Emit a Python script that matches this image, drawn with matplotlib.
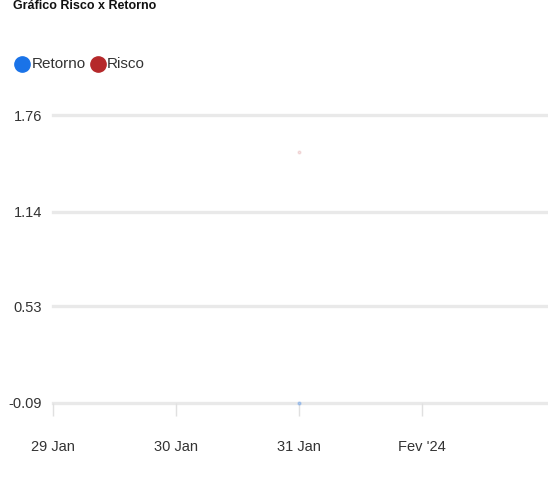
import matplotlib
matplotlib.use("Agg")
import matplotlib.pyplot as plt
import matplotlib.dates as mdates
from matplotlib.lines import Line2D
import datetime as dt

plt.rcParams['font.family'] = ['Liberation Sans', 'DejaVu Sans']

# Dados
titulo = "Gráfico Risco x Retorno"
series = ["Retorno", "Risco"]
cores = ["#1a73e8", "#b5282a"]
datas = [dt.date(2024, 1, 31)]
retorno = [-0.09]
risco = [1.52]
yticks = [-0.09, 0.53, 1.14, 1.76]
xticks = [dt.date(2024, 1, 29), dt.date(2024, 1, 30), dt.date(2024, 1, 31), dt.date(2024, 2, 1)]
xlabels = ["29 Jan", "30 Jan", "31 Jan", "Fev '24"]

W, H = 548, 497
fig = plt.figure(figsize=(W / 100, H / 100), dpi=100)
ax = fig.add_axes([53 / W, 1 - 403 / H, 1 - 53 / W, (403 - 115) / H])

x0 = mdates.date2num(xticks[0])
ax.set_xlim(x0, x0 + (W - 53) / 123)
ax.set_ylim(yticks[0], yticks[-1])

# pontos (quase invisíveis no original)
xd = mdates.date2num(datas)
ax.plot(xd, retorno, 'o', color=cores[0], ms=2, alpha=0.25, clip_on=False)
ax.plot(xd, risco, 'o', color=cores[1], ms=2, alpha=0.12, clip_on=False)

# grade
for v in yticks:
    ax.axhline(v, color="#e9e9e9", lw=2.4, zorder=0, clip_on=False)

for s in ax.spines.values():
    s.set_visible(False)

ax.set_yticks(yticks)
ax.set_yticklabels([f"{v:.2f}" for v in yticks])
ax.tick_params(axis='y', length=0, pad=8, labelsize=10.5, labelcolor="#333333")

ax.set_xticks(mdates.date2num(xticks))
ax.set_xticklabels(xlabels)
ax.tick_params(axis='x', length=9.5, width=1, color="#e0e0e0", pad=17,
               labelsize=10.5, labelcolor="#333333")

# título (no topo da imagem)
fig.text(13 / W, 1.0, titulo, fontsize=9, fontweight='bold', color="#111111",
         ha='left', va='top')

# legenda
leg_x = [22, 98]
txt_x = [32, 107]
for i, nome in enumerate(series):
    fig.add_artist(Line2D([leg_x[i] / W], [1 - 64 / H], marker='o', ms=11,
                          color=cores[i], transform=fig.transFigure, lw=0))
    fig.text(txt_x[i] / W, 1 - 64 / H, nome, fontsize=11, color="#333333",
             ha='left', va='center')

fig.savefig("out.png", dpi=100)
